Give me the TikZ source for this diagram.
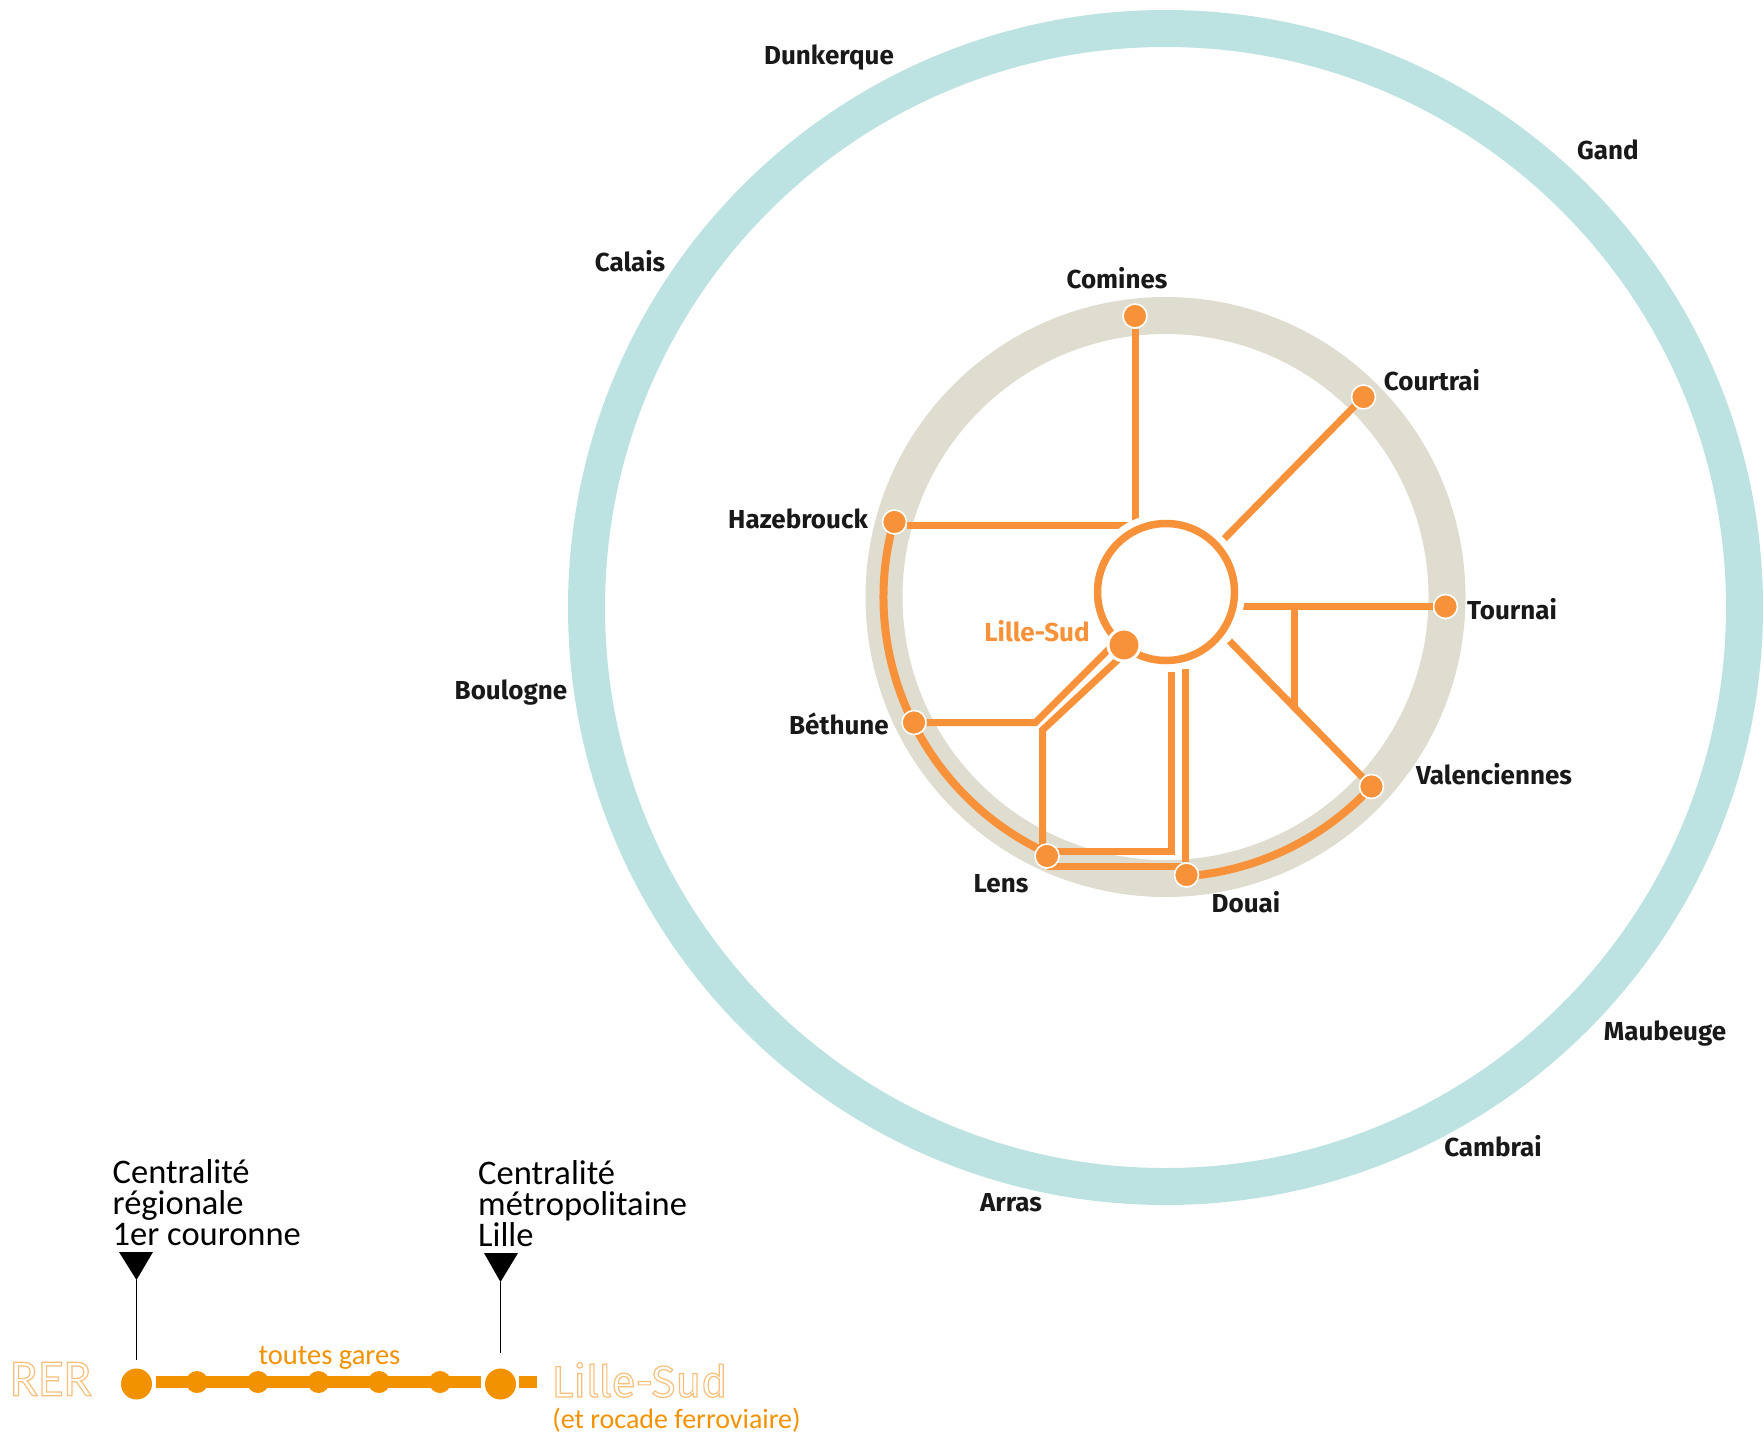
\documentclass[tikz,border=0pt]{standalone}
\usepackage{fontspec}
\setmainfont{Carlito}
\newfontfamily\townfont{Fira Sans}
\usetikzlibrary{positioning}
\definecolor{ringblue}{HTML}{BCE3E1}
\definecolor{ringgrey}{HTML}{DFDDCF}
\definecolor{track}{HTML}{F7923A}
\definecolor{legendline}{HTML}{F39200}
\definecolor{legendpale}{HTML}{F9BE78}
\newcommand{\hollow}[1]{\special{pdf:code 1 Tr 1.2 w}#1\special{pdf:code 0 Tr}}
\tikzset{
  gare/.style={circle,fill=track,draw=white,line width=1.6pt,minimum size=24pt,inner sep=0pt},
  town/.style={text=black!90,font=\townfont\fontsize{26}{26}\selectfont\bfseries,inner sep=0pt},
  ligne/.style={draw=track,line width=7pt},
  arret/.style={circle,fill=legendline,inner sep=0pt,minimum size=22pt},
  terminus/.style={circle,fill=legendline,inner sep=0pt,minimum size=31pt},
  legend/.style={align=left,anchor=north west,inner sep=0pt,font=\fontsize{34.5}{31}\selectfont,text=black},
  pale/.style={inner sep=0pt,text=legendpale,font=\fontsize{52}{52}\selectfont},
  note/.style={inner sep=0pt,text=legendline,font=\fontsize{28.5}{28.5}\selectfont},
  pointe/.style={fill=black,draw=none}
}
\begin{document}
\begin{tikzpicture}[x=1pt,y=-1pt]
  \useasboundingbox (0,0) rectangle (1764,1438);

  \coordinate (centre) at (1165.5,597);
  \draw[ringblue,line width=37pt] (1165.5,607.5) circle [radius=579pt];
  \draw[ringgrey,line width=37pt] (centre) circle [radius=281.5pt];

  \coordinate (lensLow) at (1047,866);
  \coordinate (douaiLow) at (1186,866);
  \coordinate (lensEnd) at (1171,672);
  \coordinate (lensCorner) at (1171,851);
  \coordinate (lensHigh) at (1047,851);
  \coordinate (lensFoot) at (1042.5,856);
  \coordinate (lensBend) at (1042.5,730);
  \coordinate (lensTop) at (1124,654);
  \draw[ligne,line width=8pt] (centre) ++(164.5:282pt) arc [start angle=164.5,end angle=245.5,radius=282pt];
  \draw[ligne,line width=8pt] (centre) ++(274:280pt) arc [start angle=274,end angle=317.5,radius=280pt];
  \draw[ligne] (lensLow) -- (douaiLow);
  \draw[ligne] (lensEnd) -- (lensCorner) -- (lensHigh);
  \draw[ligne] (lensFoot) -- (lensBend) -- (lensTop);

  \node[gare] (comines) at (1135,316) {};
  \node[gare] (courtrai) at (1363.5,397) {};
  \node[gare] (hazebrouck) at (894.5,522) {};
  \node[gare] (tournai) at (1445.5,606.5) {};
  \node[gare] (bethune) at (914,722.5) {};
  \node[gare] (valenciennes) at (1371.5,786.5) {};
  \node[gare] (lens) at (1047,856) {};
  \node[gare] (douai) at (1186.5,875) {};

  \coordinate (cominesEnd) at (1135,530);
  \coordinate (hazebrouckEnd) at (1135,525.5);
  \coordinate (courtraiEnd) at (1222,541);
  \coordinate (tournaiEnd) at (1243,606.5);
  \coordinate (tournaiFork) at (1294,606.5);
  \coordinate (valFork) at (1294,706.5);
  \coordinate (valEnd) at (1229.5,641);
  \coordinate (douaiEnd) at (1185,669);
  \coordinate (bethuneBend) at (1035.5,722.5);
  \coordinate (bethuneEnd) at (1118,640);

  \draw[ligne] (comines) -- (cominesEnd);
  \draw[ligne] (hazebrouck.east |- hazebrouckEnd) -- (hazebrouckEnd);
  \draw[ligne] (courtrai) -- (courtraiEnd);
  \draw[ligne] (tournai) -- (tournaiEnd);
  \draw[ligne] (tournaiFork) -- (valFork);
  \draw[ligne] (valenciennes) -- (valEnd);
  \draw[ligne] (douaiEnd |- douai.north) -- (douaiEnd);
  \draw[ligne] (bethune) -- (bethuneBend) -- (bethuneEnd);

  % ring round Lille
  \node[circle,fill=white,minimum size=158pt,inner sep=0pt] (halo) at (1166,592) {};
  \draw[track,line width=7.5pt] (halo.center) circle [radius=68.5pt];
  \node[circle,fill=track,draw=white,line width=3pt,minimum size=32pt,inner sep=0pt] (lillesud) at (1124,645) {};

  \node[town] (tDunkerque) at (829,58) {Dunkerque};
  \node[town] (tGand) at (1608,150) {Gand};
  \node[town] (tCalais) at (630,261) {Calais};
  \node[town] (tComines) at (1117,278) {Comines};
  \node[town] (tCourtrai) at (1432,380) {Courtrai};
  \node[town] (tHazebrouck) at (798,519) {Hazebrouck};
  \node[town] (tTournai) at (1512,609) {Tournai};
  \node[town,text=track] (tLilleSud) at (1037,631) {Lille-Sud};
  \node[town] (tBoulogne) at (511,693) {Boulogne};
  \node[town] (tBethune) at (839,724) {Béthune};
  \node[town] (tValenciennes) at (1494,774) {Valenciennes};
  \node[town] (tLens) at (1001,884) {Lens};
  \node[town] (tDouai) at (1246,902) {Douai};
  \node[town] (tMaubeuge) at (1665,1034) {Maubeuge};
  \node[town] (tCambrai) at (1493,1146) {Cambrai};
  \node[town] (tArras) at (1011,1203) {Arras};

  % legend
  \node[legend] (regional) at (112.5,1159) {Centralité\\régionale\\1er couronne};
  \node[legend] (metro) at (478,1160) {Centralité\\métropolitaine\\Lille};

  \coordinate (lineA) at (156,1382);
  \coordinate (lineB) at (481,1382);
  \coordinate (stubA) at (519,1382);
  \coordinate (stubB) at (537,1382);
  \draw[legendline,line width=12.5pt] (lineA) -- (lineB);
  \draw[legendline,line width=12.5pt] (stubA) -- (stubB);
  \node[terminus] (rer) at (136.5,1384) {};
  \node[terminus] (lille) at (500.5,1384) {};
  \node[arret] (a1) at (197,1382) {};
  \node[arret] (a2) at (258,1382) {};
  \node[arret] (a3) at (318.5,1382) {};
  \node[arret] (a4) at (379,1382) {};
  \node[arret] (a5) at (440,1382) {};

  \coordinate (tipA) at (136.5,1280);
  \coordinate (tipB) at (500.5,1282);
  \coordinate (footA) at (136.5,1360);
  \coordinate (footB) at (500.5,1353);
  \draw[pointe] (119,1252) -- (153,1252) -- (tipA) -- cycle;
  \draw[pointe] (484,1253) -- (518,1253) -- (tipB) -- cycle;
  \draw[black,line width=1.2pt] (tipA) -- (footA);
  \draw[black,line width=1.2pt] (tipB) -- (footB);

  \node[note] (toutes) at (329.5,1358) {toutes gares};
  \node[pale] (tRER) at (51,1379) {\hollow{RER}};
  \node[pale,font=\townfont\fontsize{44}{44}\selectfont] (tSud) at (639.5,1380) {\hollow{Lille-Sud}};
  \node[note,font=\fontsize{28}{28}\selectfont] (rocade) at (676.5,1420) {(et rocade ferroviaire)};
\end{tikzpicture}
\end{document}
